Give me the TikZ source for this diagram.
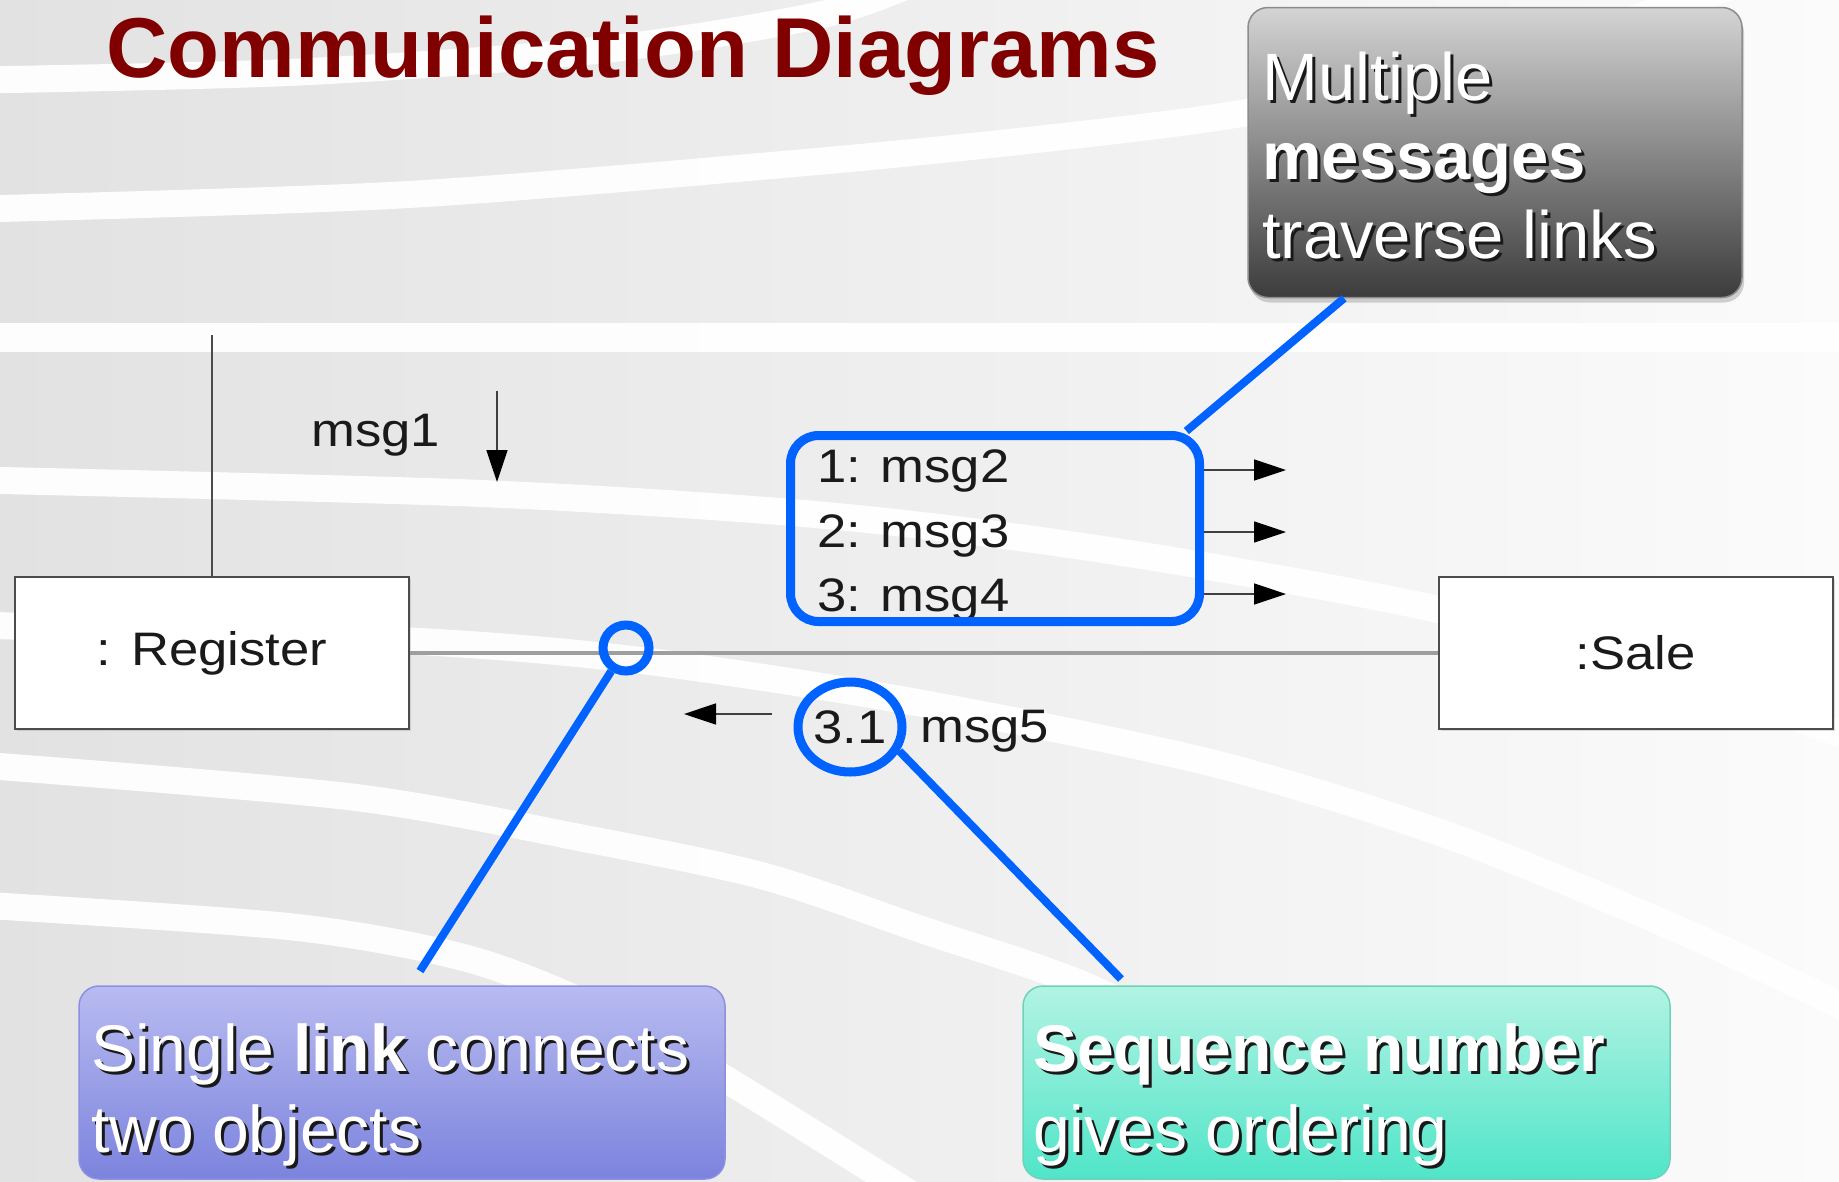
\documentclass[tikz,border=0pt]{standalone}
\usepackage{fontspec}
\setmainfont{Liberation Sans}
\newfontfamily\umlfont{Liberation Sans}[FakeStretch=1.12]
\usetikzlibrary{arrows.meta,shapes.geometric,shadows}
\definecolor{calloutblue}{RGB}{0,98,255}
\definecolor{titlered}{RGB}{128,0,0}
\definecolor{bgdark}{RGB}{226,226,226}
\definecolor{bglight}{RGB}{251,251,251}
\definecolor{purpletop}{RGB}{184,187,240}
\definecolor{purplebot}{RGB}{124,131,221}
\definecolor{purpleline}{RGB}{140,144,222}
\definecolor{tealtop}{RGB}{178,243,227}
\definecolor{tealbot}{RGB}{80,229,200}
\definecolor{tealline}{RGB}{110,210,185}
\definecolor{greytop}{RGB}{212,212,212}
\definecolor{greybot}{RGB}{60,60,60}
\definecolor{umltext}{RGB}{26,26,26}
\newcommand\shtext[1]{\makebox[0pt][l]{\hspace*{3pt}\raisebox{-3.5pt}{\textcolor{black!90}{#1}}}#1}
\begin{document}
\begin{tikzpicture}[x=1pt,y=-1pt,
  band/.style={white, line width=27pt, opacity=0.95},
  umlbox/.style={draw=black!70, line width=2pt, fill=white, minimum width=394pt, minimum height=152pt, inner sep=0pt, font=\umlfont\fontsize{47}{56}\selectfont, text=umltext, drop shadow={shadow xshift=2pt, shadow yshift=-2pt, opacity=0.25}},
  umllabel/.style={anchor=base west, inner sep=0pt, font=\umlfont\fontsize{47}{56}\selectfont, text=umltext},
  msgarrow/.style={line width=1.6pt, draw=black!75, -{Triangle[length=32pt,width=21pt,color=black]}},
  linkline/.style={line width=4pt, draw=black!38},
  callout/.style={line width=8pt, draw=calloutblue},
  hilite/.style={draw=calloutblue, line width=9pt},
  notebox/.style={rounded corners=20pt, line width=1.5pt, inner sep=0pt},
  notetext/.style={anchor=base west, inner sep=0pt, text=white, font=\fontsize{66}{79}\selectfont},
]
% background
\fill[left color=bgdark, right color=bglight] (0,0) rectangle (1839,1181);
\useasboundingbox (0,0) rectangle (1839,1181);
\draw[band] plot[smooth] coordinates {(-20,80) (300,72) (600,50) (820,15) (920,-20)};
\draw[band] plot[smooth] coordinates {(-20,209) (400,195) (800,163) (1050,138) (1250,112) (1500,60) (1750,-20)};
\draw[band, line width=29pt] (-20,337) -- (1860,337);
\draw[band] plot[smooth] coordinates {(-20,480) (469,493) (786,512) (1000,535) (1200,565) (1440,610) (1650,670) (1860,740)};
\draw[band] plot[smooth] coordinates {(-20,625) (411,641) (645,661) (920,703) (1212,763) (1447,835) (1682,931) (1860,1015)};
\draw[band] plot[smooth] coordinates {(-20,765) (352,797) (587,839) (763,876) (920,929) (1095,990) (1250,1080) (1380,1200)};
\draw[band] plot[smooth] coordinates {(-20,905) (293,927) (469,959) (600,1010) (722,1077) (920,1200)};

% title
\node[anchor=base west, inner sep=0pt, text=titlered, font=\fontsize{85}{100}\selectfont\bfseries] (title) at (106,77) {Communication Diagrams};

% UML objects
\coordinate (regtop) at (212,335);
\draw[line width=1.5pt, draw=black!70] (212,578) -- (regtop);
\node[umlbox] (reg) at (212,653) {: Register};
\node[umlbox] (sale) at (1635.5,653) {:Sale};
\draw[linkline] (reg.east) -- (sale.west);

\node[umllabel] (m1) at (311,446) {msg1};
\coordinate (m1s) at (497,391);
\coordinate (m1e) at (497,482);
\draw[msgarrow] (m1s) -- (m1e);

\node[umllabel] (m2) at (817,482) {1: msg2};
\node[umllabel] (m3) at (817,547) {2: msg3};
\node[umllabel] (m4) at (817,611) {3: msg4};
\coordinate (a2s) at (1204,470); \coordinate (a2e) at (1286,470);
\coordinate (a3s) at (1204,532); \coordinate (a3e) at (1286,532);
\coordinate (a4s) at (1204,594); \coordinate (a4e) at (1286,594);
\draw[msgarrow] (a2s) -- (a2e);
\draw[msgarrow] (a3s) -- (a3e);
\draw[msgarrow] (a4s) -- (a4e);

\coordinate (a5s) at (772,714); \coordinate (a5e) at (684,714);
\draw[msgarrow] (a5s) -- (a5e);
\node[umllabel] (m5) at (920,742) {msg5};

% highlights
\node[hilite, rounded corners=28pt, minimum width=409pt, minimum height=186pt] (msgbox) at (995,528.5) {};
\node[hilite, circle, minimum size=46pt, inner sep=0pt] (linkmark) at (626,648) {};
\node[hilite, ellipse, minimum width=104pt, minimum height=90pt, inner sep=0pt, font=\umlfont\fontsize{47}{56}\selectfont, text=umltext] (seq) at (850,727) {3.1};

% callout boxes
\node[notebox, draw=black!45, top color=greytop, bottom color=greybot, minimum width=494pt, minimum height=290pt, drop shadow={shadow xshift=2pt, shadow yshift=-5pt, opacity=0.35}] (gbox) at (1495,152.5) {};
\node[notetext, font=\fontsize{67}{79}\selectfont] (gt1) at (1262,100) {\shtext{Multiple}};
\node[notetext, font=\fontsize{67}{79}\selectfont] (gt2) at (1262,179) {\shtext{\textbf{messages}}};
\node[notetext, font=\fontsize{67}{79}\selectfont] (gt3) at (1262,258) {\shtext{traverse links}};

\node[notebox, draw=purpleline, top color=purpletop, bottom color=purplebot, minimum width=646pt, minimum height=193pt] (pbox) at (402,1082.5) {};
\node[notetext] (pt1) at (91,1071) {\shtext{Single \textbf{link} connects}};
\node[notetext] (pt2) at (91,1152) {\shtext{two objects}};

\node[notebox, draw=tealline, top color=tealtop, bottom color=tealbot, minimum width=647pt, minimum height=193pt] (tbox) at (1346.5,1082.5) {};
\node[notetext] (tt1) at (1033,1071) {\shtext{\textbf{Sequence number}}};
\node[notetext] (tt2) at (1033,1152) {\shtext{gives ordering}};

% callout connectors
\draw[callout] (gbox.-136) -- (msgbox.27);
\coordinate (pend) at (420,971);
\draw[callout] (linkmark) -- (pend);
\coordinate (tend) at (1121,979);
\draw[callout] (seq.-26) -- (tend);
\end{tikzpicture}
\end{document}
